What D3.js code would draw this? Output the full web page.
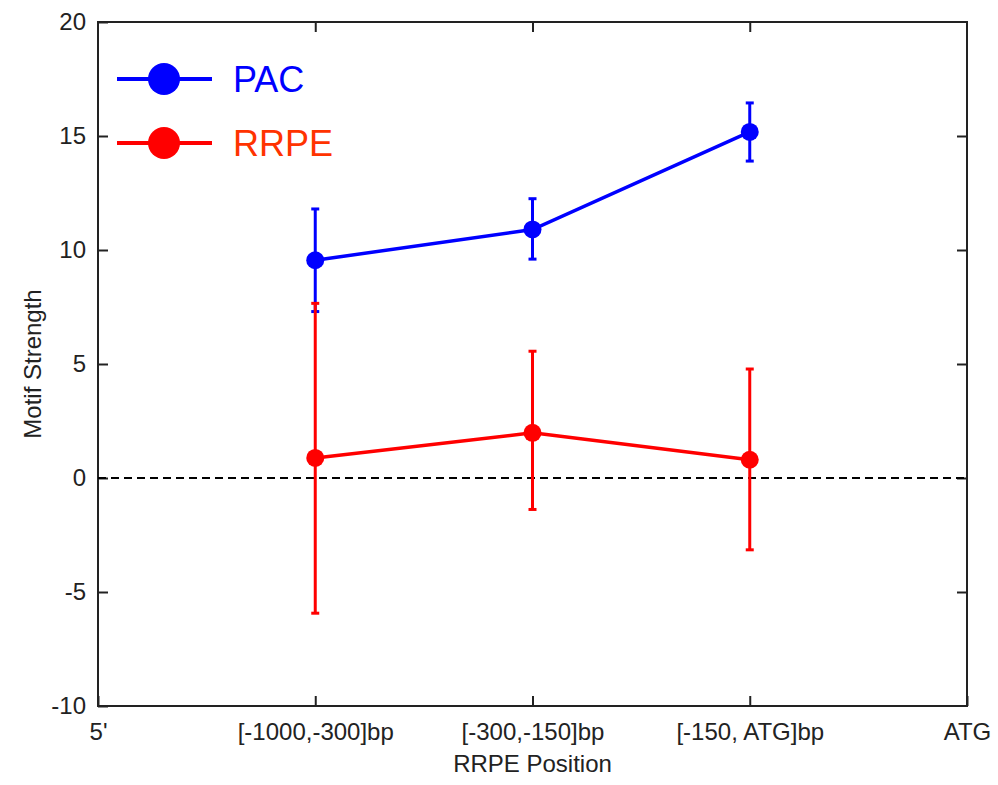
<!DOCTYPE html>
<html>
<head>
<meta charset="utf-8">
<script src="https://cdn.jsdelivr.net/npm/d3@7"></script>
<style>
  body { margin: 0; background: #fff; }
  text { font-family: Arial, "Liberation Sans", sans-serif; }
</style>
</head>
<body>
<div id="canvas"></div>
<script>
// data
const tickLabels = ["5'", "[-1000,-300]bp", "[-300,-150]bp", "[-150, ATG]bp", "ATG"];
const positions = [1, 2, 3];
const pacMean = [9.55, 10.9, 15.18];
const pacLow = [7.3, 9.6, 13.9];
const pacHigh = [11.8, 12.25, 16.45];
const rrpeMean = [0.88, 1.98, 0.8];
const rrpeLow = [-5.93, -1.38, -3.15];
const rrpeHigh = [7.66, 5.56, 4.78];
const yTicks = [-10, -5, 0, 5, 10, 15, 20];

// constants
const width = 998;
const height = 785;
const plotLeft = 98, plotRight = 967, plotTop = 22, plotBottom = 706;

const series = [
    { name: 'PAC', color: '#0000ff', textColor: '#0000ff', mean: pacMean, low: pacLow, high: pacHigh },
    { name: 'RRPE', color: '#ff0000', textColor: '#ff3300', mean: rrpeMean, low: rrpeLow, high: rrpeHigh }
];

const x = d3.scaleLinear().domain([0, 4]).range([plotLeft, plotRight]);
const y = d3.scaleLinear().domain([-10, 20]).range([plotBottom, plotTop]);

const svg = d3.select('#canvas')
    .append('svg').attr('width', width).attr('height', height);

svg.append('rect').attr('width', width).attr('height', height).attr('fill', '#fff');

// axes (ticks inward, MATLAB style box)
const xAxis = d3.axisBottom(x)
    .tickValues([0, 1, 2, 3, 4])
    .tickFormat((d, i) => tickLabels[i])
    .tickSizeInner(-10).tickSizeOuter(0).tickPadding(17);
const yAxis = d3.axisLeft(y)
    .tickValues(yTicks)
    .tickFormat(d => String(d))   // plain hyphen minus like the original
    .tickSizeInner(-10).tickSizeOuter(0).tickPadding(12);

svg.append('g')
    .attr('transform', `translate(0,${plotBottom})`)
    .call(xAxis);
svg.append('g')
    .attr('transform', `translate(${plotLeft},0)`)
    .call(yAxis);

svg.append('g')
    .attr('transform', `translate(0,${plotTop})`)
    .call(d3.axisTop(x).tickValues([1, 2, 3]).tickFormat('').tickSizeInner(-10).tickSizeOuter(0));
svg.append('g')
    .attr('transform', `translate(${plotRight},0)`)
    .call(d3.axisRight(y).tickValues(yTicks.slice(1, -1)).tickFormat('').tickSizeInner(-10).tickSizeOuter(0));

svg.selectAll('.domain').remove();
svg.selectAll('.tick line').attr('stroke', '#222').attr('stroke-width', 2);
svg.selectAll('.tick text').attr('fill', '#222').attr('font-size', 24);

svg.append('rect')
    .attr('x', plotLeft).attr('y', plotTop)
    .attr('width', plotRight - plotLeft).attr('height', plotBottom - plotTop)
    .attr('fill', 'none').attr('stroke', '#222').attr('stroke-width', 2);

// zero line
svg.append('line')
    .attr('x1', plotLeft).attr('x2', plotRight)
    .attr('y1', y(0)).attr('y2', y(0))
    .attr('stroke', '#000').attr('stroke-width', 2)
    .attr('stroke-dasharray', '8,5');

// axis labels
svg.append('text')
    .attr('x', (plotLeft + plotRight) / 2).attr('y', 772)
    .attr('text-anchor', 'middle')
    .attr('font-size', 24).attr('fill', '#222')
    .text('RRPE Position');
svg.append('text')
    .attr('transform', `translate(41,${(plotTop + plotBottom) / 2}) rotate(-90)`)
    .attr('text-anchor', 'middle')
    .attr('font-size', 24).attr('fill', '#222')
    .text('Motif Strength');

// series
const lineGen = d3.line().x(d => x(d[0])).y(d => y(d[1]));

series.forEach(s => {
    const g = svg.append('g');
    // error bars
    positions.forEach((p, i) => {
        g.append('line')
            .attr('x1', x(p)).attr('x2', x(p))
            .attr('y1', y(s.low[i])).attr('y2', y(s.high[i]))
            .attr('stroke', s.color).attr('stroke-width', 3);
        [s.low[i], s.high[i]].forEach(v => {
            g.append('line')
                .attr('x1', x(p) - 4).attr('x2', x(p) + 4)
                .attr('y1', y(v)).attr('y2', y(v))
                .attr('stroke', s.color).attr('stroke-width', 3);
        });
    });
    g.append('path')
        .attr('d', lineGen(positions.map((p, i) => [p, s.mean[i]])))
        .attr('fill', 'none').attr('stroke', s.color).attr('stroke-width', 3.5);
    g.selectAll('circle')
        .data(positions)
        .join('circle')
        .attr('cx', d => x(d))
        .attr('cy', (d, i) => y(s.mean[i]))
        .attr('r', 9)
        .attr('fill', s.color);
});

// legend
const legend = svg.append('g');
series.forEach((s, i) => {
    const ly = 79 + i * 64;
    legend.append('line')
        .attr('x1', 117).attr('x2', 212)
        .attr('y1', ly).attr('y2', ly)
        .attr('stroke', s.color).attr('stroke-width', 4);
    legend.append('circle')
        .attr('cx', 164).attr('cy', ly).attr('r', 16)
        .attr('fill', s.color);
    legend.append('text')
        .attr('x', 233).attr('y', ly + 13)
        .attr('font-size', 36)
        .attr('fill', s.textColor)
        .text(s.name);
});
</script>
</body>
</html>
